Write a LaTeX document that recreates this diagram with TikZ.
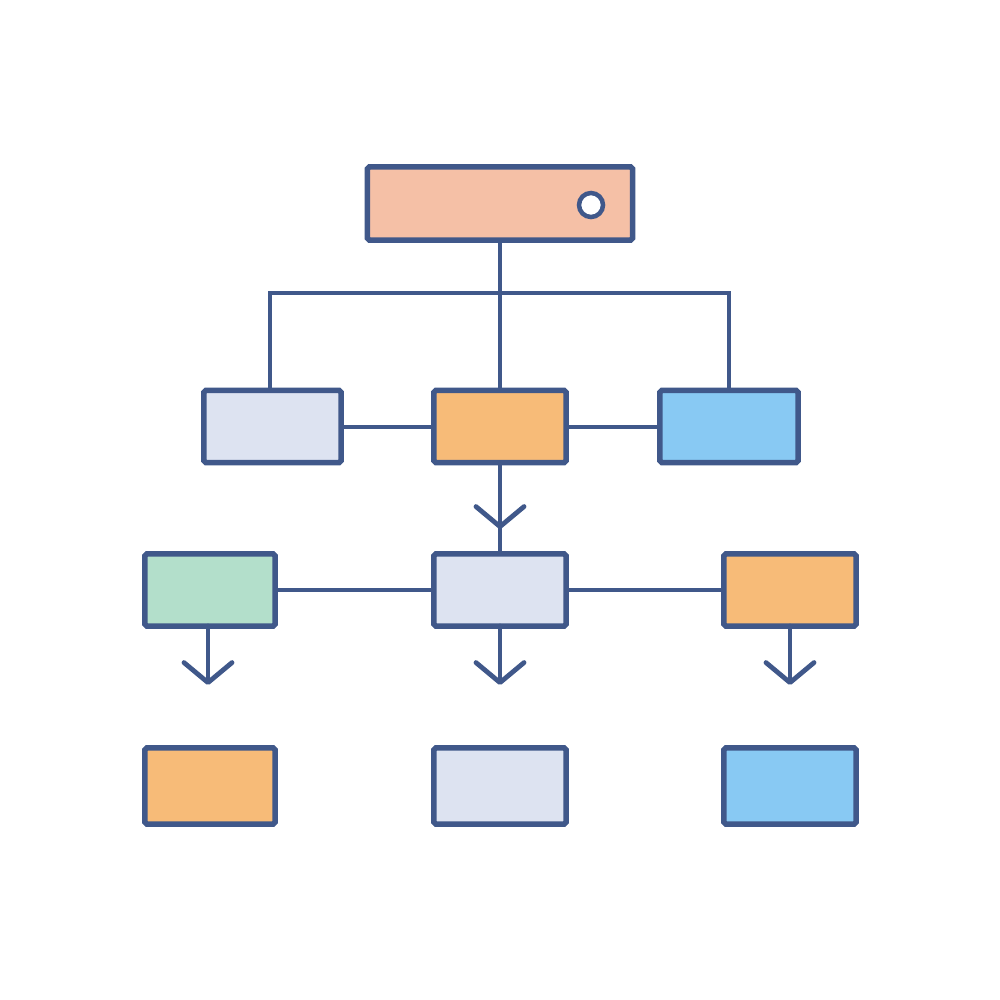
\documentclass[tikz,border=0pt]{standalone}
\usetikzlibrary{arrows.meta,calc}
\definecolor{outl}{RGB}{64,88,138}
\definecolor{salmon}{RGB}{245,192,166}
\definecolor{lav}{RGB}{221,227,241}
\definecolor{orng}{RGB}{247,187,120}
\definecolor{skyb}{RGB}{136,201,243}
\definecolor{mint}{RGB}{179,223,203}
\begin{document}
\begin{tikzpicture}[x=0.01cm,y=-0.01cm,
  box/.style={draw=outl,line width=0.055cm,rounded corners=0.5pt,inner sep=0pt,outer sep=0pt,minimum height=0.72cm},
  conn/.style={draw=outl,line width=0.04cm,line cap=round},
  tipconn/.style={conn,line width=0.048cm,-{Straight Barb[length=0.2cm,width=0.48cm,line cap=round,round]}}]
\fill[white] (0,0) rectangle (1000,1000);
\useasboundingbox (0,0) rectangle (1000,1000);
% nodes
\node[box,fill=salmon,minimum width=2.65cm,minimum height=0.73cm] (top) at (500,203.5) {};
\node[draw=outl,line width=0.045cm,fill=white,circle,inner sep=0pt,minimum size=0.24cm] (dot) at (591,205) {};
\node[box,fill=lav,minimum width=1.37cm] (r2L) at (272.5,426.5) {};
\node[box,fill=orng,minimum width=1.32cm] (r2M) at (500,426.5) {};
\node[box,fill=skyb,minimum width=1.38cm] (r2R) at (729,426.5) {};
\node[box,fill=mint,minimum width=1.30cm,minimum height=0.72cm] (r3L) at (210,590) {};
\node[box,fill=lav,minimum width=1.32cm,minimum height=0.72cm] (r3M) at (500,590) {};
\node[box,fill=orng,minimum width=1.32cm,minimum height=0.72cm] (r3R) at (790,590) {};
\node[box,fill=orng,minimum width=1.30cm,minimum height=0.76cm] (r4L) at (210,786) {};
\node[box,fill=lav,minimum width=1.32cm,minimum height=0.76cm] (r4M) at (500,786) {};
\node[box,fill=skyb,minimum width=1.32cm,minimum height=0.76cm] (r4R) at (790,786) {};
% coordinates
\coordinate (bus) at (500,293);
\coordinate (mtip) at (500,529);
\coordinate (a1) at (208,685);
\coordinate (a2) at (500,685);
\coordinate (a3) at (790,685);
% connectors
\draw[conn] (top.south) -- (bus);
\draw[conn] (r2L.north -| 270,0) |- (bus) -| (r2R.north);
\draw[conn] (bus) -- (r2M.north);
\draw[conn] (r2L.east) -- (r2M.west);
\draw[conn] (r2M.east) -- (r2R.west);
\draw[conn] (r2M.south) -- (r3M.north);
\draw[tipconn] (r2M.south) -- (mtip);
\draw[conn] (r3L.east) -- (r3M.west);
\draw[conn] (r3M.east) -- (r3R.west);
\draw[tipconn] (r3L.south -| a1) -- (a1);
\draw[tipconn] (r3M.south) -- (a2);
\draw[tipconn] (r3R.south) -- (a3);
\end{tikzpicture}
\end{document}
